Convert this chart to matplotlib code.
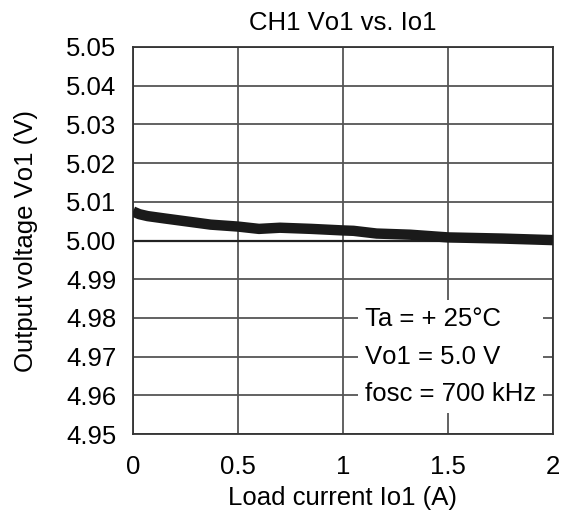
import matplotlib
matplotlib.use("Agg")
import matplotlib.pyplot as plt

plt.rcParams['font.family'] = ['Liberation Sans', 'DejaVu Sans']

load_current = [0.0, 0.03, 0.07, 0.15, 0.26, 0.37, 0.5, 0.6, 0.7, 0.85, 1.0, 1.05, 1.16, 1.32, 1.5, 1.76, 2.0]
output_voltage = [5.0075, 5.0068, 5.0063, 5.0057, 5.0049, 5.0041, 5.0036, 5.0030, 5.0033, 5.0030, 5.0026, 5.0025, 5.0018, 5.0015, 5.0008, 5.0005, 5.0001]
x_ticks = [0, 0.5, 1, 1.5, 2]
x_tick_labels = ["0", "0.5", "1", "1.5", "2"]
y_ticks = [4.95, 4.96, 4.97, 4.98, 4.99, 5.00, 5.01, 5.02, 5.03, 5.04, 5.05]

fs = 18.5

fig = plt.figure(figsize=(5.61, 5.16), dpi=100)
ax = fig.add_axes([133/561, 1 - 434/516, 420/561, 387/516])

ax.plot(load_current, output_voltage, color="#1a1a1a", lw=7.5, solid_capstyle="butt", zorder=3)

ax.set_xlim(0, 2)
ax.set_ylim(4.95, 5.05)
ax.set_xticks(x_ticks)
ax.set_xticklabels(x_tick_labels)
ax.set_yticks(y_ticks)
ax.set_yticklabels([f"{v:.2f}" for v in y_ticks])
ax.tick_params(length=0, labelsize=fs)
ax.tick_params(axis="x", pad=15)
ax.tick_params(axis="y", pad=12)
ax.grid(True, color="#555555", lw=1.3)
ax.axhline(5.0, color="#222222", lw=1.6, zorder=2)
for s in ax.spines.values():
    s.set_color("#333333")
    s.set_linewidth(1.3)

ax.set_title("CH1 V\u1d0f1 vs. I\u1d0f1", fontsize=fs, pad=12)
ax.set_xlabel("Load current I\u1d0f1 (A)", fontsize=fs, labelpad=5)
ax.set_ylabel("Output voltage V\u1d0f1 (V)", fontsize=fs, labelpad=20)

ax.text(1.105, 4.97, "Ta = + 25°C\nV\u1d0f1 = 5.0 V\nfosc = 700 kHz", fontsize=fs,
        linespacing=1.7, va="center", ha="left", zorder=4,
        bbox=dict(facecolor="white", edgecolor="none", pad=5))

fig.savefig("out.png", dpi=100)
